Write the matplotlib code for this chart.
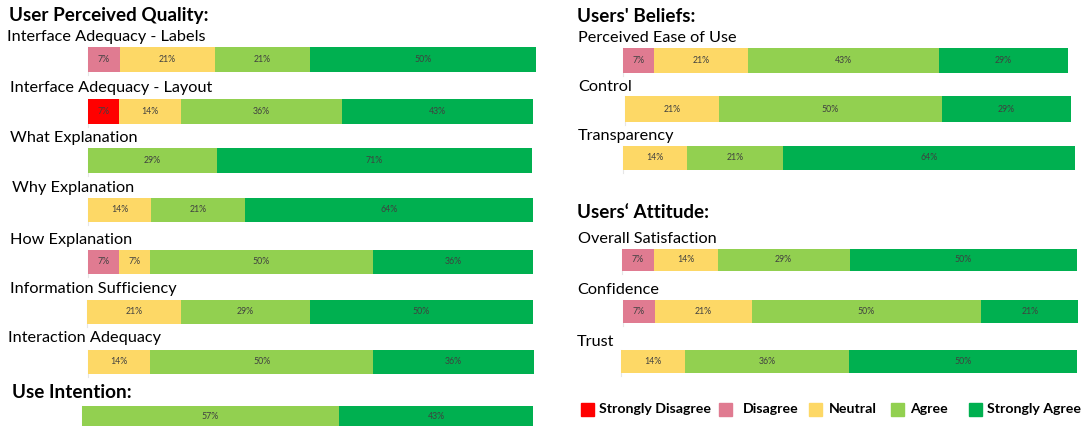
import matplotlib
matplotlib.use("Agg")
import matplotlib.pyplot as plt
from matplotlib.patches import Rectangle

W, H = 1084, 426
FONT = "Lato"

levels = ["Strongly Disagree", "Disagree", "Neutral", "Agree", "Strongly Agree"]
level_colors = ["#FF0000", "#E07B91", "#FDD866", "#92D050", "#00B050"]

# Left panel: User Perceived Quality
upq_items = ["Interface Adequacy - Labels", "Interface Adequacy - Layout", "What Explanation",
             "Why Explanation", "How Explanation", "Information Sufficiency", "Interaction Adequacy"]
upq_sd = [0, 7, 0, 0, 0, 0, 0]
upq_d = [7, 0, 0, 0, 7, 0, 0]
upq_n = [21, 14, 0, 14, 7, 21, 14]
upq_a = [21, 36, 29, 21, 50, 29, 50]
upq_sa = [50, 43, 71, 64, 36, 50, 36]

# Use Intention
ui_items = [""]
ui_sd = [0]
ui_d = [0]
ui_n = [0]
ui_a = [57]
ui_sa = [43]

# Users' Beliefs
ub_items = ["Perceived Ease of Use", "Control", "Transparency"]
ub_sd = [0, 0, 0]
ub_d = [7, 0, 0]
ub_n = [21, 21, 14]
ub_a = [43, 50, 21]
ub_sa = [29, 29, 64]

# Users' Attitude
ua_items = ["Overall Satisfaction", "Confidence", "Trust"]
ua_sd = [0, 0, 0]
ua_d = [7, 7, 0]
ua_n = [14, 21, 14]
ua_a = [29, 50, 36]
ua_sa = [50, 21, 50]

fig = plt.figure(figsize=(W / 100, H / 100), dpi=100)
fig.patch.set_facecolor("white")


def fx(px):
    return px / W


def fy(py):
    return 1 - py / H


def draw_bar(vals, box):
    x0, y0, x1, y1 = box
    ax = fig.add_axes([fx(x0), fy(y1), fx(x1 - x0), (y1 - y0) / H])
    total = sum(vals)
    left = 0
    for v, c in zip(vals, level_colors):
        if v > 0:
            ax.barh(0, v, left=left, height=1.0, color=c, edgecolor="none")
            ax.text(left + v / 2, 0, f"{v}%", ha="center", va="center",
                    fontsize=6.3, color="#404040", family=FONT)
            left += v
    ax.set_xlim(0, total)
    ax.set_ylim(-0.5, 0.5)
    ax.axis("off")
    # faint baseline tick at the left edge of each bar
    fig.add_artist(plt.Line2D([fx(x0), fx(x0)], [fy(y1 + 3), fy(y0)],
                              color="#e6e6e6", lw=0.8, transform=fig.transFigure, zorder=0))


def label(txt, x, y, bold=False, size=11.7):
    fig.text(fx(x), fy(y), txt, ha="left", va="center", fontsize=size,
             fontweight="bold" if bold else "normal", family=FONT, color="black")


def series(i, sd, d, n, a, sa):
    return [sd[i], d[i], n[i], a[i], sa[i]]


TS = 13.6  # section title size

# Left column layout (pixel positions)
label("User Perceived Quality:", 9, 15, bold=True, size=TS)
upq_label_pos = [(7, 37), (10, 88), (10, 138), (12, 188), (10, 240), (10, 289), (8, 338)]
upq_boxes = [(88, 47, 536, 72), (88, 99, 533, 124), (88, 148, 532, 173), (88, 198, 533, 222),
             (88, 250, 533, 274), (87, 300, 533, 324), (88, 350, 534, 374)]
for i, item in enumerate(upq_items):
    label(item, *upq_label_pos[i])
    draw_bar(series(i, upq_sd, upq_d, upq_n, upq_a, upq_sa), upq_boxes[i])

label("Use Intention:", 12, 392, bold=True, size=TS)
draw_bar(series(0, ui_sd, ui_d, ui_n, ui_a, ui_sa), (82, 406, 533, 427))

# Right column
label("Users' Beliefs:", 577, 16, bold=True, size=TS)
ub_label_pos = [(578, 38), (578, 87), (578, 136)]
ub_boxes = [(623, 48, 1068, 73), (625, 96, 1071, 122), (623, 146, 1075, 170)]
for i, item in enumerate(ub_items):
    label(item, *ub_label_pos[i])
    draw_bar(series(i, ub_sd, ub_d, ub_n, ub_a, ub_sa), ub_boxes[i])

label("Users\u2018 Attitude:", 577, 213, bold=True, size=TS)
ua_label_pos = [(578, 239), (577, 290), (577, 342)]
ua_boxes = [(622, 249, 1077, 271), (623, 300, 1078, 323), (621, 350, 1077, 373)]
for i, item in enumerate(ua_items):
    label(item, *ua_label_pos[i])
    draw_bar(series(i, ua_sd, ua_d, ua_n, ua_a, ua_sa), ua_boxes[i])

# Legend
leg_sq = [581, 719, 809, 891, 969]
leg_txt = [599, 743, 829, 910, 987]
for lv, c, sx, tx in zip(levels, level_colors, leg_sq, leg_txt):
    fig.patches.append(Rectangle((fx(sx), fy(416)), fx(13), 13 / H, color=c,
                                 transform=fig.transFigure, figure=fig))
    label(lv, tx, 409, bold=True, size=10.2)

fig.savefig("out.png", dpi=100, facecolor="white")
